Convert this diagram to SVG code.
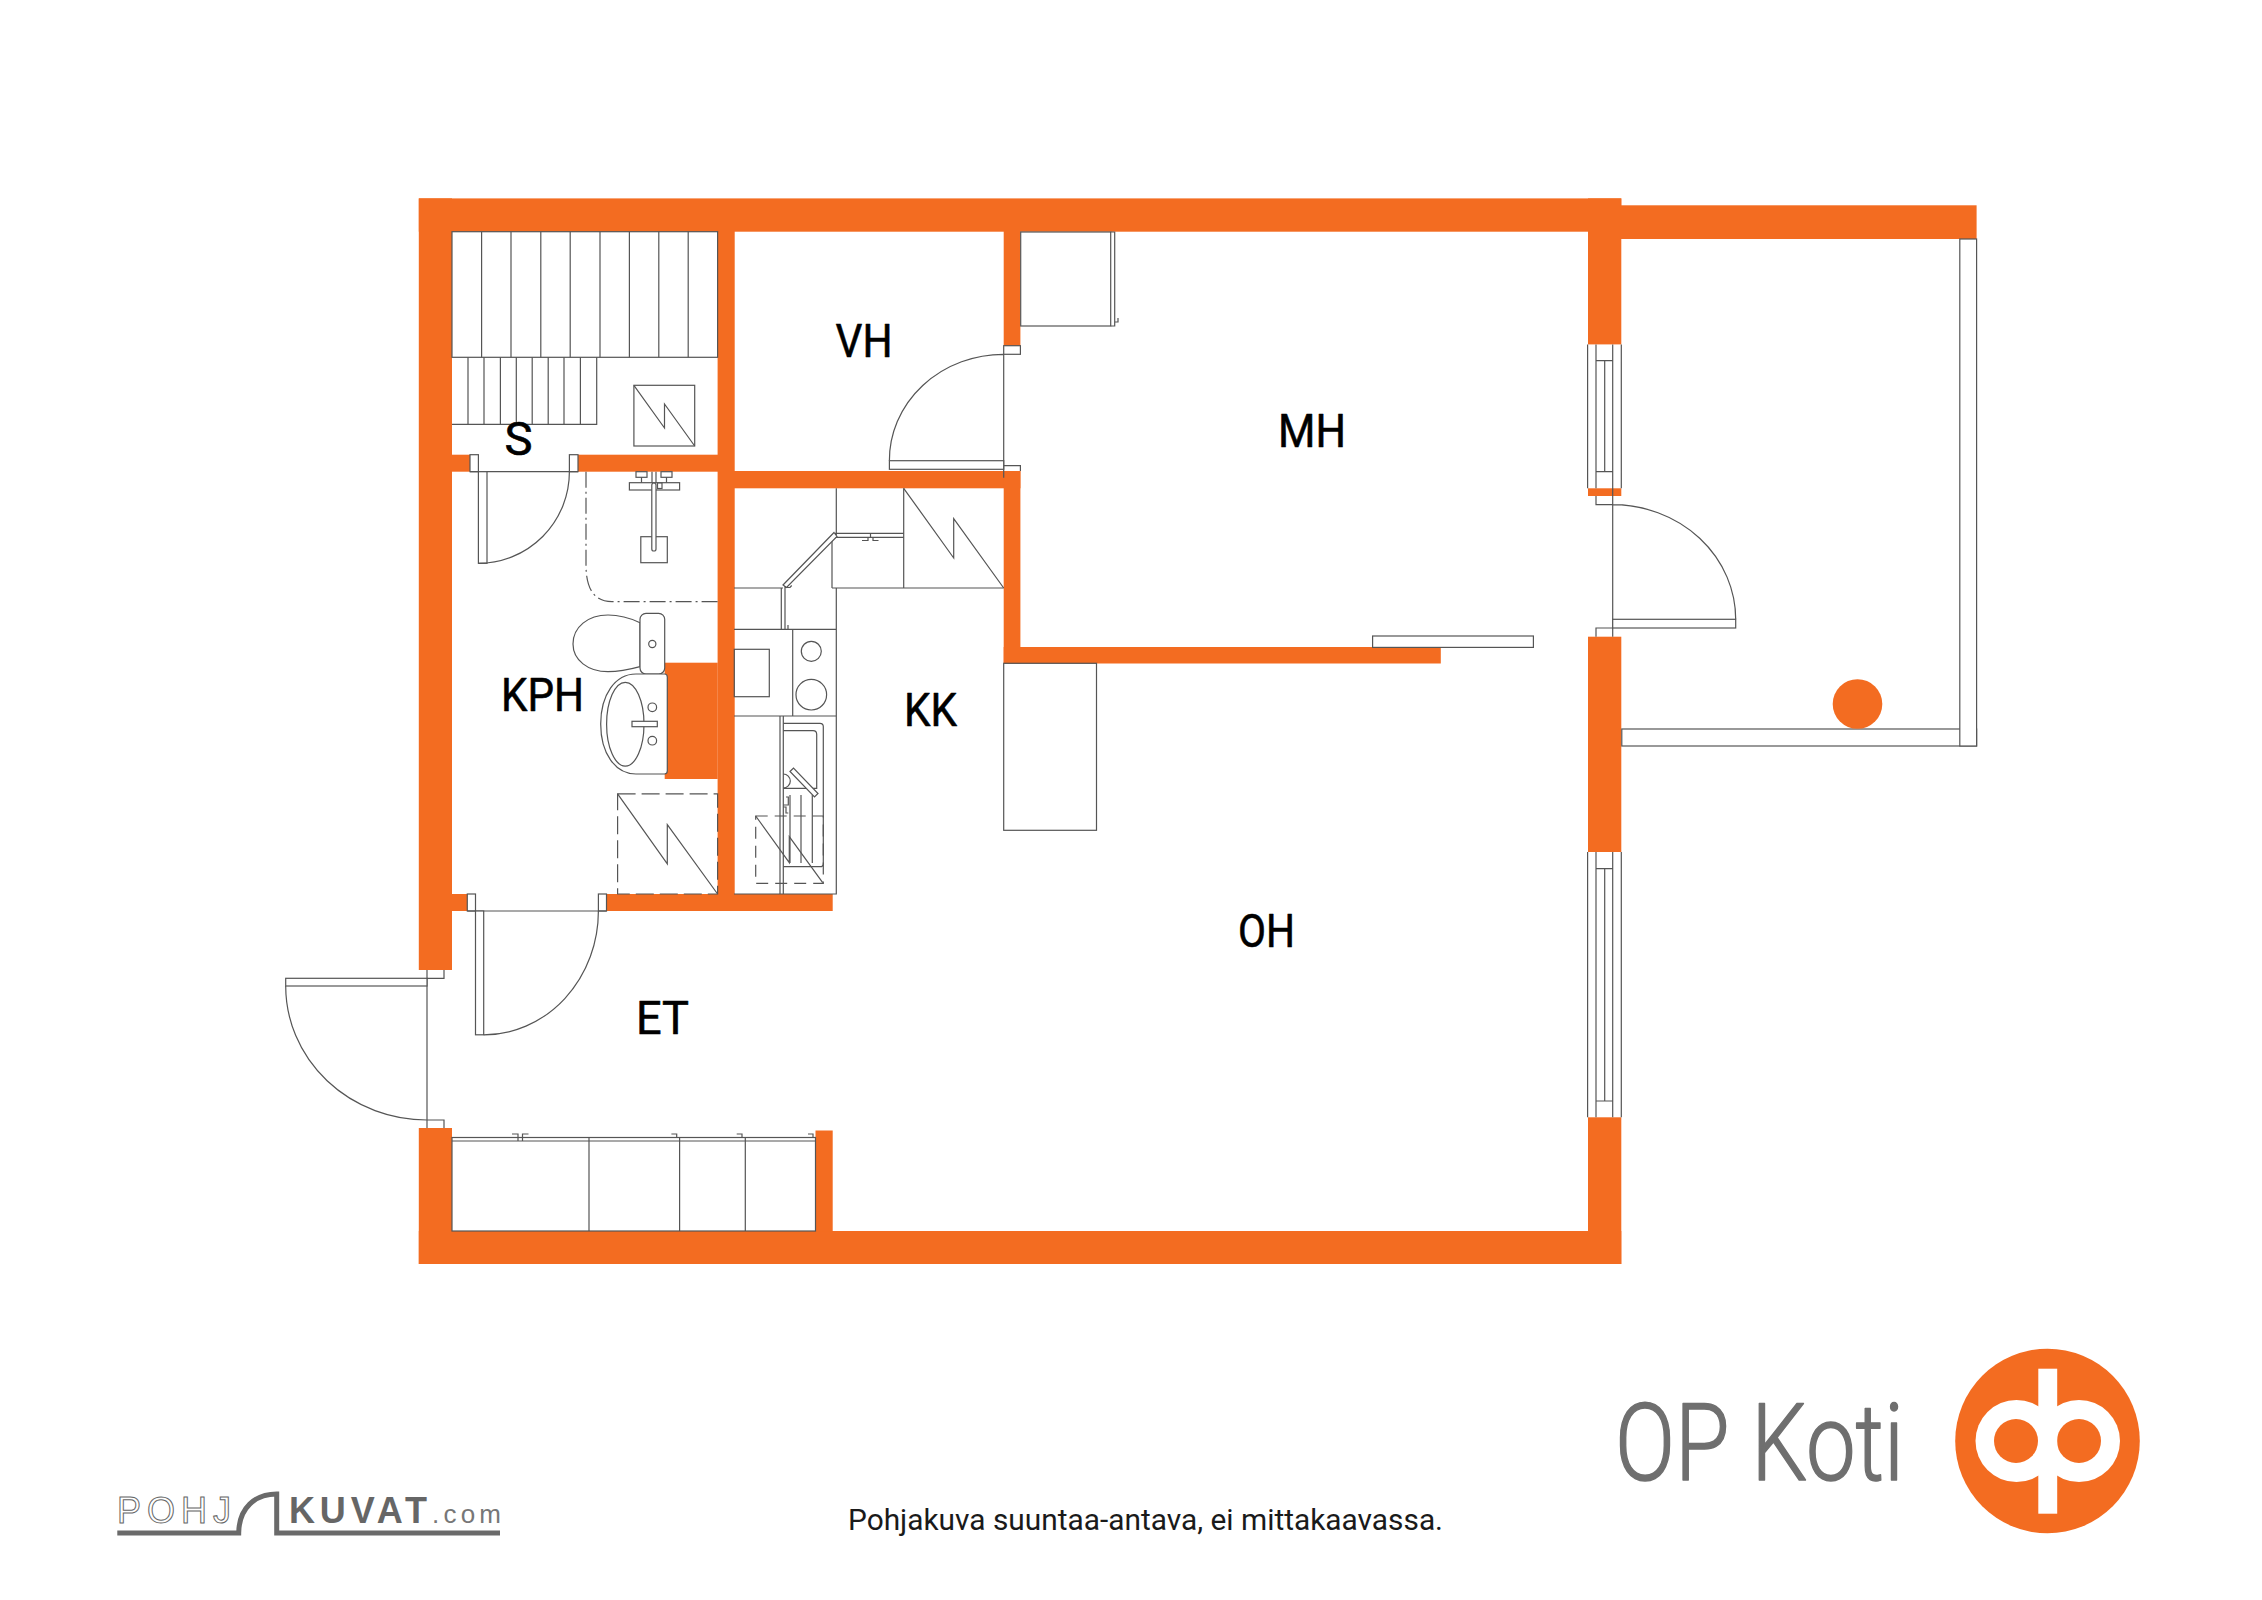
<svg xmlns="http://www.w3.org/2000/svg" width="2262" height="1600" viewBox="0 0 2262 1600">
<defs><style>
.w{fill:#f36c21}
.l{fill:none;stroke:#555;stroke-width:1.2}
.f{fill:#fff;stroke:#555;stroke-width:1.2}
.d{fill:none;stroke:#555;stroke-width:1.2;stroke-dasharray:18 6}
.k{fill:none;stroke:#555;stroke-width:1.2;stroke-dasharray:12 7}
.s{fill:none;stroke:#555;stroke-width:1.2;stroke-dasharray:16 4 2 4}
.t{font-family:"Roboto","Noto Sans",sans-serif;font-size:46px;fill:#000;stroke:#000;stroke-width:.6;stroke-linejoin:round}
</style></defs>
<rect width="2262" height="1600" fill="#fff"/>
<g id="walls">
<rect class="w" x="418.8" y="198.4" width="1202.5" height="33.3"/>
<rect class="w" x="418.8" y="198.4" width="33.2" height="771.6"/>
<rect class="w" x="418.8" y="1128" width="33.2" height="136"/>
<rect class="w" x="418.8" y="1231" width="1202.5" height="33"/>
<rect class="w" x="1588" y="198.4" width="33.3" height="146"/>
<rect class="w" x="1588" y="488.3" width="33.3" height="7.7"/>
<rect class="w" x="1588" y="636.7" width="33.3" height="215.3"/>
<rect class="w" x="1588" y="1117.3" width="33.3" height="146.7"/>
<rect class="w" x="1621" y="205.3" width="355.6" height="33.7"/>
<rect class="w" x="717.6" y="231" width="17.1" height="663"/>
<rect class="w" x="452" y="454.7" width="18" height="17"/>
<rect class="w" x="578" y="454.7" width="140" height="17"/>
<rect class="w" x="734" y="471" width="286.4" height="17.3"/>
<rect class="w" x="1003.7" y="231" width="16.7" height="115"/>
<rect class="w" x="1003.7" y="471" width="16.7" height="192.5"/>
<rect class="w" x="1003.7" y="647" width="437.1" height="16.5"/>
<rect class="w" x="664.7" y="662.7" width="53" height="116.3"/>
<rect class="w" x="452" y="894" width="15.3" height="17"/>
<rect class="w" x="606.5" y="894" width="226.2" height="17"/>
<rect class="w" x="815.5" y="1130.5" width="17.2" height="101"/>
</g>
<g id="stairs">
<rect class="l" x="452" y="231.7" width="265.6" height="125.6"/>
<path class="l" d="M481.6 231.7V357.3M511 231.7V357.3M540.8 231.7V357.3M570.2 231.7V357.3M600 231.7V357.3M629.4 231.7V357.3M658.8 231.7V357.3M688.2 231.7V357.3"/>
<path class="l" d="M452 424.3H596.7V357.3M468 357.3V424.3M484 357.3V424.3M500.4 357.3V424.3M516.3 357.3V424.3M532.2 357.3V424.3M548.2 357.3V424.3M564 357.3V424.3M580.4 357.3V424.3"/>
<rect class="l" x="633.9" y="385.3" width="60.8" height="60.7"/>
<path class="l" d="M633.9 385.3L664.5 428V404L694.7 446"/>
</g>
<g id="door-s-kph">
<rect class="f" x="470" y="454.7" width="8.4" height="17"/>
<rect class="f" x="569.4" y="454.7" width="8.6" height="17"/>
<path class="l" d="M470 471.7H578"/>
<rect class="f" x="478.4" y="471.7" width="8.6" height="91.6"/>
<path class="l" d="M478.4 563.3A91 91.6 0 0 0 569.4 471.7"/>
</g>
<g id="door-vh-mh">
<rect class="f" x="1003.7" y="345.7" width="16.7" height="8.6"/>
<path class="l" d="M1003.7 354.3V477.7M1003.7 354.3A114.3 106 0 0 0 889.4 460.7"/>
<rect class="f" x="889.4" y="460.7" width="114.3" height="8.6"/>
<path class="l" d="M1003.7 465.6H1020.4V471"/>
</g>
<g id="wardrobe">
<rect class="l" x="1020.7" y="232" width="90" height="94"/>
<path class="l" d="M1110.7 232H1114.7V326H1110.7M1114.7 322H1118V318"/>
</g>
<g id="shower">
<path class="s" d="M586 471.7V565C586 590 595 601.7 612 601.7H717.6"/>
<rect class="f" x="636" y="471.7" width="11" height="5.6"/>
<rect class="f" x="661" y="471.7" width="11" height="5.6"/>
<path class="l" d="M641.5 477.3V483M666.5 477.3V483M652 471.7V483M656 471.7V483"/>
<rect class="f" x="629.4" y="482.7" width="50.2" height="7.3"/>
<rect class="f" x="640.8" y="536.7" width="26.5" height="26"/>
<rect class="f" x="651.8" y="483" width="4.2" height="68" rx="2.1"/>
<rect class="f" x="657.5" y="483" width="4.5" height="5.5"/>
</g>
<g id="toilet">
<path class="f" d="M640 622.7C628 617 618 615 608 615C588 615 573 627 573 644C573 660 588 671.7 608 671.7C618 671.7 628 670 640 666.7Z"/>
<rect class="f" x="640" y="613.3" width="24.7" height="60.7" rx="6"/>
<circle class="l" cx="652.3" cy="644" r="3.6"/>
</g>
<g id="basin">
<path class="f" d="M667.3 677Q667.3 674 664.5 674H636C615 674 600.7 695 600.7 724C600.7 753 615 774 636 774H664.5Q667.3 774 667.3 771Z"/>
<ellipse class="l" cx="625.3" cy="724.2" rx="18.7" ry="41.9"/>
<rect class="f" x="632" y="721.3" width="25.3" height="5.4"/>
<circle class="l" cx="652.3" cy="707.3" r="4.3"/>
<circle class="l" cx="652.3" cy="740.7" r="4.3"/>
</g>
<g id="washer">
<rect class="d" x="617.6" y="793.8" width="100" height="100.2"/>
<path class="l" d="M617.6 793.8L667.3 863.9V824.6L717.6 894"/>
</g>
<g id="kitchen">
<path class="l" d="M836.3 488.3V535M903.7 488.3V588M832 588H1003.7M832 537V588M734 588H783"/>
<path class="l" d="M903.7 488.3L953.7 558V518.7L1003.7 588"/>
<path class="l" d="M835 533.3H903.7M835 537.3H903.7M862 537.3H868V540.5H862M873 537.3V540.5H878.5M870.5 534V537"/>
<path class="f" d="M834 532.5L837 536.5L786.5 587.5L783 585Z"/>
<path class="l" d="M781.3 588V629.3M785 586V629.3M788 625V629.3M785 587.5H790L791.7 585.5"/>
<path class="l" d="M836.3 588V894H734M734 629.3H836.3M734 716H836.3M792.7 629.3V716"/>
<rect class="l" x="734.3" y="649.3" width="35" height="47.4"/>
<circle class="l" cx="811.3" cy="651.3" r="10"/>
<circle class="l" cx="811.3" cy="694.7" r="15.3"/>
<path class="l" d="M780 716V894M783.3 716V894"/>
<path class="l" d="M783.3 723.3H820Q823.3 723.3 823.3 726.6V863.4Q823.3 866.7 820 866.7H783.3"/>
<path class="l" d="M783.3 730.7H813Q816.7 730.7 816.7 734.4V788.3H783.3"/>
<path class="l" d="M783.3 774A7 7 0 0 1 783.3 788"/>
<path class="l" d="M790 795V863M801 795V863M812.3 795V863"/>
<path class="l" d="M786 797H788.3V805H783.3M783.3 807H786V813H788.3"/>
<polygon class="f" points="790,771.5 793.5,768 818,793.5 814.5,797"/>
<rect class="k" x="755.7" y="816" width="67.6" height="67.3"/>
<path class="l" d="M755.7 816L789.3 862.7V836.7L822.7 882.7"/>
</g>
<g id="door-kph-et">
<rect class="f" x="467.3" y="894" width="8.2" height="17"/>
<rect class="f" x="598.4" y="894" width="8.1" height="17"/>
<path class="l" d="M467.3 911H606.5"/>
<rect class="f" x="475.5" y="911" width="8.2" height="123.8"/>
<path class="l" d="M483.7 1034.8A114.7 123.8 0 0 0 598.4 911"/>
</g>
<g id="entry-door">
<path class="l" d="M427 970V1128M285.7 986A141.3 134 0 0 0 427 1120M427 978.3H444V970M427 1120H444V1128"/>
<rect class="f" x="285.7" y="978.3" width="141.3" height="7.7"/>
</g>
<g id="closet">
<rect class="l" x="452" y="1137.5" width="363.5" height="93.5"/>
<path class="l" d="M452 1141H815.5M589 1137.5V1231M679.6 1137.5V1231M745.3 1137.5V1231"/>
<path class="l" d="M512 1134H518V1141M528.5 1134H522.5V1141M671.4 1134H676.7V1137.5M736.7 1134H742V1137.5M808 1134H813V1137.5"/>
</g>
<g id="island">
<rect class="l" x="1003.7" y="663.3" width="92.8" height="167"/>
<rect class="f" x="1372.6" y="636" width="160.8" height="11.4"/>
</g>
<g id="window-upper">
<path class="l" d="M1587.6 344.4V488.3M1596 344.4V488.3M1612.7 344.4V496M1621.3 344.4V488.3M1596 360.7H1612.7M1596 471.7H1612.7M1604.7 360.7V471.7"/>
</g>
<g id="window-lower">
<path class="l" d="M1587.6 852V1117.3M1596 852V1117.3M1612.7 852V1117.3M1621.3 852V1117.3M1596 868.7H1612.7M1596 1101H1612.7M1604.7 868.7V1101"/>
</g>
<g id="balcony-door">
<path class="l" d="M1596 496V504.7H1612.7M1612.7 496V636.7M1612.7 504.7A123 114.6 0 0 1 1735.7 619.3M1596 636.7V628H1612.7"/>
<rect class="f" x="1612.7" y="619.3" width="123" height="8.7"/>
</g>
<g id="balcony">
<rect class="l" x="1621.8" y="729" width="354.8" height="17"/>
<rect class="f" x="1959.8" y="239" width="16.8" height="507"/>
<circle class="w" cx="1857.5" cy="704" r="24.8"/>
</g>
<g id="labels">
<text class="t" x="835.5" y="356.5" textLength="57" lengthAdjust="spacingAndGlyphs">VH</text>
<text class="t" x="504.5" y="455" textLength="28" lengthAdjust="spacingAndGlyphs">S</text>
<text class="t" x="1278" y="446.5" textLength="68" lengthAdjust="spacingAndGlyphs">MH</text>
<text class="t" x="501" y="710.5" textLength="83" lengthAdjust="spacingAndGlyphs">KPH</text>
<text class="t" x="904" y="726" textLength="53" lengthAdjust="spacingAndGlyphs">KK</text>
<text class="t" x="1238" y="947" textLength="57" lengthAdjust="spacingAndGlyphs">OH</text>
<text class="t" x="636" y="1034" textLength="53" lengthAdjust="spacingAndGlyphs">ET</text>
<text x="848" y="1530" textLength="595" lengthAdjust="spacingAndGlyphs" style="font-family:Roboto,'Noto Sans',sans-serif;font-size:29px;fill:#1a1a1a">Pohjakuva suuntaa-antava, ei mittakaavassa.</text>
</g>
<g id="logo-op">
<text x="1615" y="1480" textLength="289" lengthAdjust="spacingAndGlyphs" style="font-family:Roboto,'Noto Sans',sans-serif;font-weight:300;font-size:108px;fill:#6f6f6f;stroke:#6f6f6f;stroke-width:1.5;stroke-linejoin:round">OP Koti</text>
<circle class="w" cx="2047.5" cy="1441" r="92.3"/>
<circle cx="2016.5" cy="1441" r="41" fill="#fff"/>
<circle cx="2079" cy="1441" r="41" fill="#fff"/>
<circle class="w" cx="2016" cy="1441" r="22"/>
<circle class="w" cx="2079" cy="1441" r="22"/>
<rect x="2038.3" y="1368.7" width="18.9" height="145" fill="#fff"/>
</g>
<g id="logo-pohjakuvat">
<path d="M117.3 1533H238.7C239 1508 255 1494 276.7 1494V1533H500" fill="none" stroke="#6a6a6a" stroke-width="5"/>
<text x="117" y="1522.7" textLength="114" style="font-family:'Liberation Sans',sans-serif;font-size:36px;fill:#fff;stroke:#666;stroke-width:1">POHJ</text>
<text x="289" y="1522.7" textLength="138" style="font-family:'Liberation Sans',sans-serif;font-size:36px;font-weight:700;fill:#666">KUVAT</text>
<text x="432" y="1522.7" textLength="69" style="font-family:'Liberation Sans',sans-serif;font-size:26px;fill:#777">.com</text>
</g>
</svg>
